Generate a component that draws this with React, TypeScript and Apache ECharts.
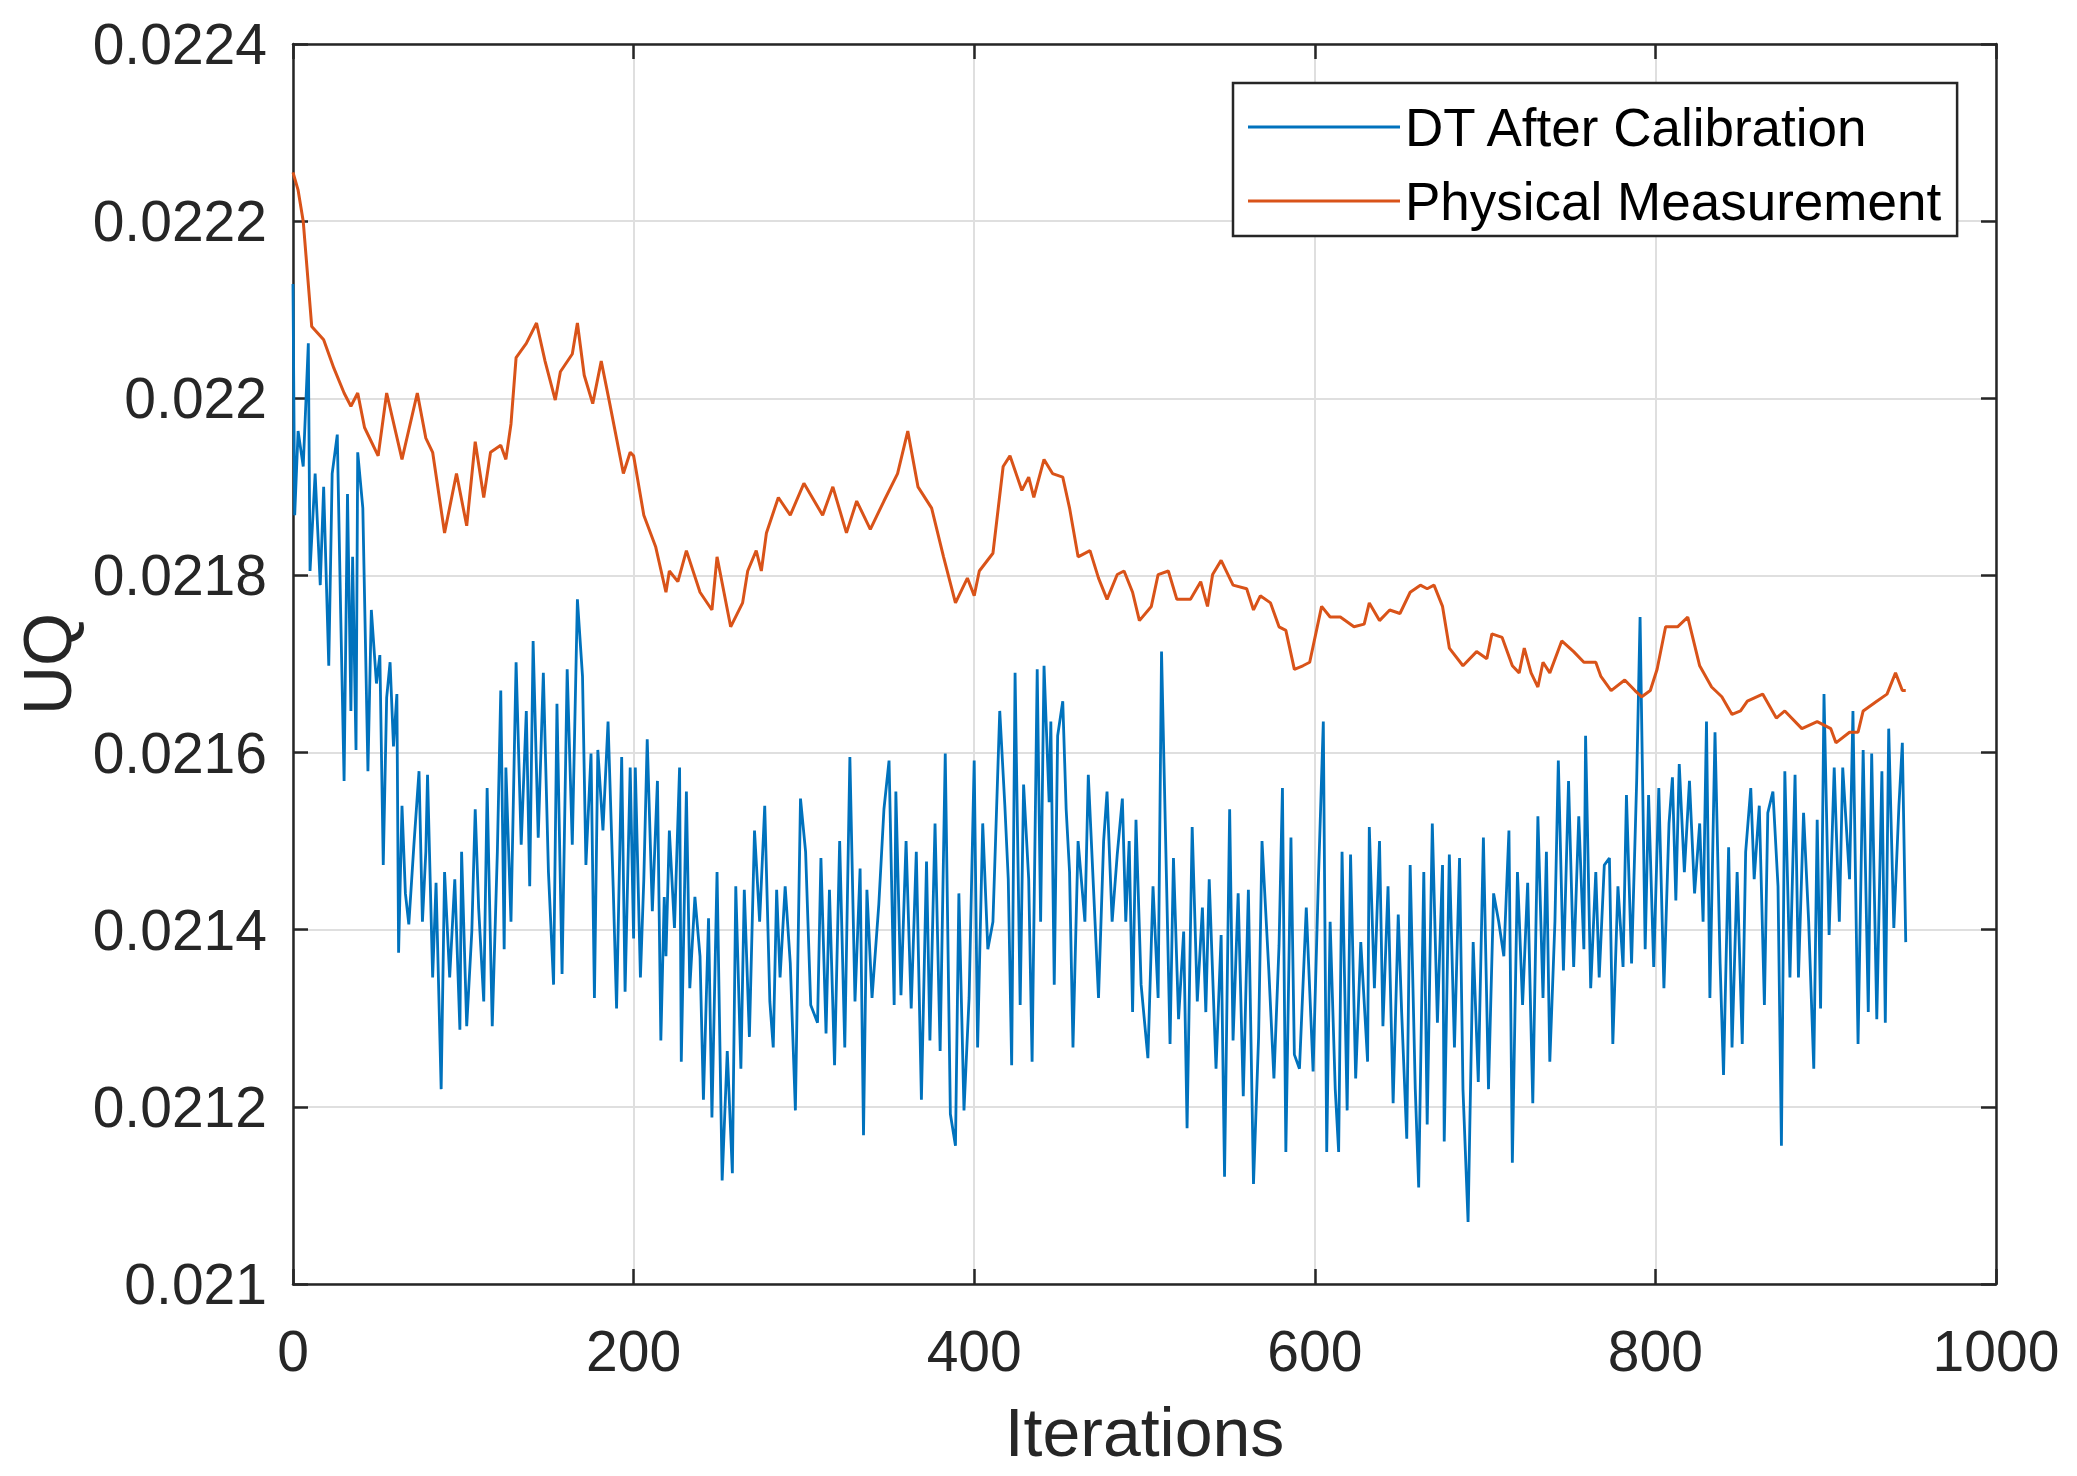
import React, { useEffect, useRef } from "react";
import * as echarts from "echarts";

// [iteration, UQ] readings – DT After Calibration (blue)
const dtSeg1: [number, number][] = [
  [0, 0.022129], [1, 0.021868], [3, 0.021963], [6, 0.021923], [9, 0.022062], [10, 0.021805], [13, 0.021915], [16, 0.021789], [18, 0.0219], [21, 0.021698],
  [23, 0.021915], [26, 0.021959], [28, 0.021757], [30, 0.021568], [32, 0.021892], [34, 0.021647], [35, 0.021821], [37, 0.021603], [38, 0.021939], [41, 0.021876],
  [44, 0.021579], [46, 0.021761], [49, 0.021678], [51, 0.02171], [53, 0.021473], [55, 0.021662], [57, 0.021702], [59, 0.021607], [61, 0.021666], [62, 0.021374],
  [64, 0.02154], [66, 0.021441], [68, 0.021406], [71, 0.021496], [74, 0.021579], [76, 0.021409], [78, 0.021488], [79, 0.021575], [82, 0.021346], [84, 0.021453],
  [87, 0.02122], [89, 0.021465], [92, 0.021346], [95, 0.021457], [98, 0.021287], [99, 0.021488], [102, 0.021291], [105, 0.021398], [107, 0.021536], [109, 0.021425],
  [112, 0.021319], [114, 0.02156], [117, 0.021291], [120, 0.021488], [122, 0.02167], [124, 0.021378], [125, 0.021583], [128, 0.021409], [131, 0.021702], [134, 0.021496],
  [137, 0.021647], [139, 0.021449], [141, 0.021726], [144, 0.021504], [147, 0.02169], [150, 0.021465], [153, 0.021338], [155, 0.021655], [158, 0.02135], [161, 0.021694],
  [164, 0.021496], [167, 0.021773], [170, 0.021686], [172, 0.021473], [175, 0.021599], [177, 0.021323], [179, 0.021603], [182, 0.021512], [185, 0.021635], [188, 0.021449],
  [190, 0.021311], [193, 0.021595], [195, 0.02133], [198, 0.021583], [200, 0.02139],
];
const dtSeg2: [number, number][] = [
  [201, 0.021583], [204, 0.021346], [206, 0.021457], [208, 0.021615], [211, 0.021421], [214, 0.021568], [216, 0.021275], [218, 0.021437], [219, 0.02137], [221, 0.021512],
  [224, 0.021402], [227, 0.021583], [228, 0.021251], [231, 0.021556], [233, 0.021334], [236, 0.021437], [239, 0.02137], [241, 0.021208], [244, 0.021413], [246, 0.021188],
  [249, 0.021465], [252, 0.021117], [255, 0.021263], [258, 0.021125], [260, 0.021449], [263, 0.021243], [265, 0.021445], [268, 0.021279], [271, 0.021512], [274, 0.021409],
  [277, 0.02154], [280, 0.021319], [282, 0.021267], [284, 0.021445], [286, 0.021346], [289, 0.021449], [292, 0.021362], [295, 0.021196], [298, 0.021548], [301, 0.021488],
  [304, 0.021315], [308, 0.021295], [310, 0.021481], [313, 0.021283], [315, 0.021445], [318, 0.021247], [321, 0.0215], [324, 0.021267], [327, 0.021595], [330, 0.021319],
  [333, 0.021469], [335, 0.021168], [337, 0.021445], [340, 0.021323], [344, 0.021429], [347, 0.021536], [350, 0.021591], [353, 0.021315], [354, 0.021556], [357, 0.021326],
  [360, 0.0215], [363, 0.021311], [366, 0.021488], [369, 0.021208], [372, 0.021477], [374, 0.021275], [377, 0.02152], [380, 0.021263], [383, 0.021599], [386, 0.021192],
  [389, 0.021156], [391, 0.021441], [394, 0.021196], [397, 0.021323], [400, 0.021591], [402, 0.021267], [405, 0.02152], [408, 0.021378],
];
const dtSeg3: [number, number][] = [
  [411, 0.021409], [415, 0.021647], [418, 0.02154], [420, 0.021457], [422, 0.021247], [424, 0.02169], [427, 0.021315], [429, 0.021564], [432, 0.021457], [434, 0.021251],
  [437, 0.021694], [439, 0.021409], [441, 0.021698], [444, 0.021544], [445, 0.021635], [447, 0.021338], [449, 0.021619], [452, 0.021658], [454, 0.021536], [456, 0.021465],
  [458, 0.021267], [461, 0.0215], [465, 0.021409], [467, 0.021575], [470, 0.021449], [473, 0.021323], [476, 0.0215], [478, 0.021556], [481, 0.021409], [484, 0.021485],
  [487, 0.021548], [489, 0.021409], [491, 0.0215], [493, 0.021307], [495, 0.021524], [498, 0.021338], [502, 0.021255], [505, 0.021449], [508, 0.021323], [510, 0.021714],
  [513, 0.021449], [515, 0.021271], [517, 0.021481], [520, 0.021299], [523, 0.021398], [525, 0.021176], [528, 0.021516], [531, 0.021319], [534, 0.021425], [536, 0.021307],
  [538, 0.021457], [542, 0.021243], [545, 0.021394], [547, 0.021121], [550, 0.021536], [552, 0.021275], [555, 0.021441], [558, 0.021212], [561, 0.021445], [564, 0.021113],
  [567, 0.021279], [569, 0.0215], [573, 0.021354], [576, 0.021232], [579, 0.021382], [581, 0.02156], [583, 0.021149], [586, 0.021504], [588, 0.021259], [591, 0.021243],
  [595, 0.021425], [599, 0.02124], [602, 0.021449], [605, 0.021635], [607, 0.021149], [609, 0.021409],
];
const dtSeg4: [number, number][] = [
  [612, 0.02122], [614, 0.021149], [616, 0.021488], [619, 0.021196], [621, 0.021485], [624, 0.021232], [627, 0.021386], [631, 0.021251], [632, 0.021516], [635, 0.021334],
  [638, 0.0215], [640, 0.021291], [643, 0.021449], [646, 0.021204], [649, 0.021417], [651, 0.021307], [654, 0.021164], [656, 0.021473], [659, 0.02122], [661, 0.021109],
  [664, 0.021465], [666, 0.02118], [669, 0.02152], [672, 0.021295], [675, 0.021473], [676, 0.021161], [679, 0.021485], [682, 0.021267], [685, 0.021481], [687, 0.02122],
  [690, 0.02107], [693, 0.021386], [696, 0.021228], [699, 0.021504], [702, 0.02122], [705, 0.021441], [708, 0.021409], [711, 0.02137], [714, 0.021512], [716, 0.021137],
  [719, 0.021465], [722, 0.021315], [725, 0.021453], [728, 0.021204], [731, 0.021528], [734, 0.021323], [736, 0.021488], [738, 0.021251], [741, 0.021409], [743, 0.021591],
  [746, 0.021354], [749, 0.021568], [752, 0.021358], [755, 0.021528], [758, 0.021378], [759, 0.021619], [762, 0.021334], [765, 0.021465], [767, 0.021346], [770, 0.021473],
  [773, 0.021481], [775, 0.021271], [778, 0.021449], [781, 0.021358], [783, 0.021552], [786, 0.021362], [789, 0.021568], [791, 0.021753], [794, 0.021378], [796, 0.021552],
  [799, 0.021358], [802, 0.02156], [805, 0.021334], [808, 0.02152],
];
const dtSeg5: [number, number][] = [
  [810, 0.021572], [812, 0.021433], [814, 0.021587], [817, 0.021465], [820, 0.021568], [823, 0.021441], [826, 0.02152], [828, 0.021409], [830, 0.021635], [832, 0.021323],
  [835, 0.021623], [838, 0.021362], [840, 0.021236], [843, 0.021493], [845, 0.021267], [848, 0.021465], [851, 0.021271], [853, 0.021488], [856, 0.02156], [858, 0.021457],
  [861, 0.02154], [864, 0.021315], [866, 0.021532], [869, 0.021556], [872, 0.021449], [874, 0.021156], [876, 0.021579], [879, 0.021346], [882, 0.021575], [884, 0.021346],
  [887, 0.021532], [890, 0.021409], [893, 0.021243], [895, 0.021524], [897, 0.021311], [899, 0.021666], [902, 0.021394], [905, 0.021583], [908, 0.021409], [910, 0.021583],
  [914, 0.021457], [916, 0.021647], [919, 0.021271], [922, 0.021603], [925, 0.021307], [927, 0.021599], [930, 0.021299], [933, 0.021579], [935, 0.021295], [937, 0.021627],
  [940, 0.021402], [943, 0.02154], [945, 0.021611], [947, 0.021386],
];

// [iteration, UQ] readings – Physical Measurement (orange)
const pmSeg1: [number, number][] = [
  [0, 0.022255], [3, 0.022235], [6, 0.0222], [11, 0.022081], [18, 0.022066], [24, 0.022034], [30, 0.022006], [34, 0.021991], [38, 0.022006], [42, 0.021967],
  [50, 0.021935], [55, 0.022006], [64, 0.021931], [73, 0.022006], [78, 0.021955], [82, 0.021939], [89, 0.021848], [96, 0.021915], [102, 0.021856], [107, 0.021951],
  [112, 0.021888], [116, 0.021939], [122, 0.021947], [125, 0.021931], [128, 0.021971], [131, 0.022046], [137, 0.022062], [143, 0.022085], [148, 0.022042], [154, 0.021998],
  [157, 0.02203], [164, 0.02205], [167, 0.022085], [171, 0.022026], [176, 0.021994], [181, 0.022042], [186, 0.021994], [194, 0.021915], [198, 0.021939],
];
const pmSeg2: [number, number][] = [
  [200, 0.021935], [206, 0.021868], [213, 0.021832], [219, 0.021781], [221, 0.021805], [226, 0.021793], [231, 0.021828], [239, 0.021781], [246, 0.021761], [249, 0.021821],
  [257, 0.021742], [264, 0.021769], [267, 0.021805], [272, 0.021828], [275, 0.021805], [278, 0.021848], [285, 0.021888], [292, 0.021868], [300, 0.021904], [311, 0.021868],
  [317, 0.0219], [325, 0.021848], [331, 0.021884], [339, 0.021852], [347, 0.021884], [355, 0.021915], [361, 0.021963], [367, 0.0219], [375, 0.021876], [382, 0.021821],
  [389, 0.021769], [396, 0.021797], [400, 0.021777],
];
const pmSeg3: [number, number][] = [
  [403, 0.021805], [411, 0.021825], [417, 0.021923], [421, 0.021935], [428, 0.021896], [432, 0.021911], [435, 0.021888], [441, 0.021931], [446, 0.021915], [452, 0.021911],
  [456, 0.021876], [461, 0.021821], [468, 0.021828], [473, 0.021797], [478, 0.021773], [484, 0.021801], [488, 0.021805], [493, 0.021781], [497, 0.021749], [504, 0.021765],
  [508, 0.021801], [514, 0.021805], [519, 0.021773], [527, 0.021773], [533, 0.021793], [537, 0.021765], [540, 0.021801], [545, 0.021817], [552, 0.021789], [560, 0.021785],
  [564, 0.021761], [568, 0.021777], [574, 0.021769], [579, 0.021742], [583, 0.021738], [588, 0.021694], [593, 0.021698], [597, 0.021702],
];
const pmSeg4: [number, number][] = [
  [604, 0.021765], [609, 0.021753], [615, 0.021753], [623, 0.021742], [629, 0.021745], [632, 0.021769], [638, 0.021749], [644, 0.021761], [650, 0.021757], [656, 0.021781],
  [662, 0.021789], [666, 0.021785], [670, 0.021789], [675, 0.021765], [679, 0.021718], [687, 0.021698], [695, 0.021714], [701, 0.021706], [704, 0.021734], [710, 0.02173],
  [716, 0.021698], [720, 0.02169], [723, 0.021718], [727, 0.02169], [731, 0.021674], [734, 0.021702], [738, 0.02169], [745, 0.021726], [752, 0.021714], [758, 0.021702],
  [765, 0.021702], [768, 0.021686], [774, 0.02167], [782, 0.021682], [788, 0.02167], [792, 0.021663], [797, 0.02167],
];
const pmSeg5: [number, number][] = [
  [801, 0.021694], [806, 0.021742], [813, 0.021742], [819, 0.021753], [826, 0.021698], [833, 0.021674], [839, 0.021663], [845, 0.021643], [850, 0.021647], [854, 0.021658],
  [863, 0.021666], [871, 0.021639], [876, 0.021647], [886, 0.021627], [895, 0.021635], [903, 0.021627], [906, 0.021611], [914, 0.021623], [919, 0.021623], [922, 0.021647],
  [930, 0.021658], [936, 0.021666], [941, 0.02169], [945, 0.02167], [947, 0.02167],
];

const seriesNames = ["DT After Calibration", "Physical Measurement"];
const xTicks = { min: 0, max: 1000, interval: 200 };
const yTicks = { min: 0.021, max: 0.0224, interval: 0.0002 };

const dtData = [...dtSeg1, ...dtSeg2, ...dtSeg3, ...dtSeg4, ...dtSeg5];
const pmData = [...pmSeg1, ...pmSeg2, ...pmSeg3, ...pmSeg4, ...pmSeg5];

const FONT = "'Liberation Sans', Arial, Helvetica, sans-serif";
const AX = "#262626";

export default function App() {
  const ref = useRef<HTMLDivElement>(null);
  useEffect(() => {
    if (!ref.current) return;
    const chart = echarts.init(ref.current, null, { renderer: "svg" });
    const axisLine = { show: true, onZero: false, lineStyle: { color: AX, width: 2.5 } };
    const axisTick = { show: true, inside: true, length: 15, lineStyle: { color: AX, width: 2.5 } };
    const yFmt = (v: number) => v.toFixed(4).replace(/0+$/, "");
    const xFmt = (v: number) => String(Math.round(v));
    chart.setOption({
      animation: false,
      backgroundColor: "#ffffff",
      textStyle: { fontFamily: FONT },
      grid: { left: 293, right: 81, top: 44, bottom: 192, containLabel: false },
      xAxis: [
        {
          type: "value", ...xTicks, position: "bottom",
          name: "Iterations", nameLocation: "middle", nameGap: 114,
          nameTextStyle: { fontSize: 68, color: AX, fontFamily: FONT },
          axisLine, axisTick,
          axisLabel: { fontSize: 57, color: AX, margin: 38, formatter: xFmt, fontFamily: FONT },
          splitLine: { show: true, lineStyle: { color: "#dfdfdf", width: 2 } },
        },
        {
          type: "value", ...xTicks, position: "top",
          axisLine, axisTick, axisLabel: { show: false }, splitLine: { show: false },
        },
      ],
      yAxis: [
        {
          type: "value", ...yTicks, position: "left",
          name: "UQ", nameLocation: "middle", nameGap: 212,
          nameTextStyle: { fontSize: 68, color: AX, fontFamily: FONT },
          axisLine, axisTick,
          axisLabel: { fontSize: 57, color: AX, margin: 26, formatter: yFmt, fontFamily: FONT },
          splitLine: { show: true, lineStyle: { color: "#dfdfdf", width: 2 } },
        },
        {
          type: "value", ...yTicks, position: "right",
          axisLine, axisTick, axisLabel: { show: false }, splitLine: { show: false },
        },
      ],
      legend: {
        orient: "vertical", left: 1233, top: 83,
        padding: [14, 16, 5, 15], itemGap: 14,
        itemWidth: 152, itemHeight: 3, icon: "rect",
        backgroundColor: "#ffffff", borderColor: AX, borderWidth: 2.5, borderRadius: 0,
        textStyle: { fontSize: 53, color: "#000", lineHeight: 60, fontFamily: FONT },
        data: seriesNames,
      },
      series: [
        {
          name: seriesNames[0], type: "line", data: dtData, xAxisIndex: 0, yAxisIndex: 0,
          symbol: "none", showSymbol: false,
          lineStyle: { color: "#0072BD", width: 2.8 }, itemStyle: { color: "#0072BD" }, z: 2,
        },
        {
          name: seriesNames[1], type: "line", data: pmData, xAxisIndex: 0, yAxisIndex: 0,
          symbol: "none", showSymbol: false,
          lineStyle: { color: "#D95319", width: 3 }, itemStyle: { color: "#D95319" }, z: 3,
        },
      ],
    });
    return () => chart.dispose();
  }, []);
  return (
    <div
      ref={ref}
      style={{ position: "absolute", left: 0, top: 0, width: 2077, height: 1476, background: "#fff" }}
    />
  );
}
